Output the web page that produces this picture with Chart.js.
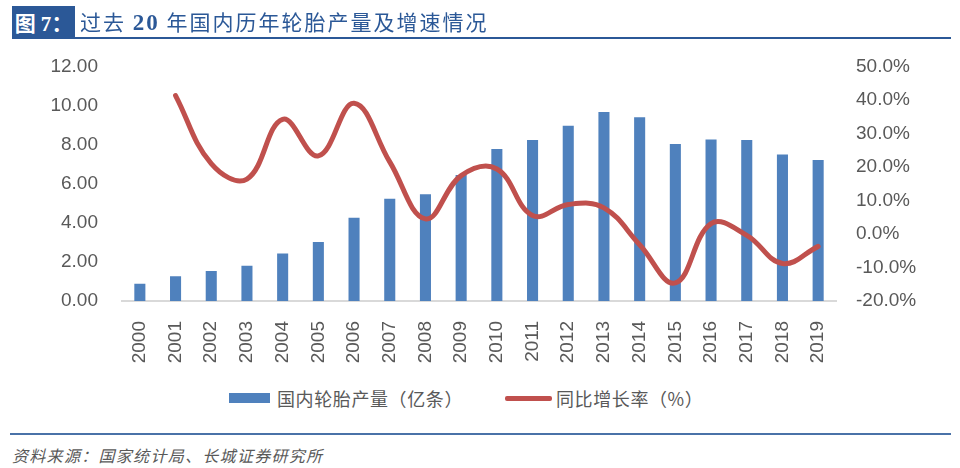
<!DOCTYPE html>
<html>
<head>
<meta charset="utf-8">
<script src="https://cdn.jsdelivr.net/npm/chart.js@4/dist/chart.umd.min.js"></script>
<style>
  html, body { margin:0; padding:0; background:#fff; }
  body { width:960px; height:468px; position:relative; overflow:hidden; font-family:"Noto Sans CJK SC", sans-serif; }
  #titlebox { position:absolute; left:12px; top:6px; width:63px; height:33px; background:#2B5897; color:#fff;
    font-family:"Liberation Serif","Noto Sans CJK SC",serif; font-weight:bold; font-size:21px; line-height:33px; text-align:center; z-index:2; }
  #titlebox span { font-family:"Noto Sans CJK SC"; font-weight:bold; }
  #titleline { position:absolute; left:75px; top:37px; width:876px; height:2px; background:#2B5897; z-index:2; }
  #title { position:absolute; left:80px; top:5px; height:33px; line-height:33px; color:#2B5897; font-size:21px; letter-spacing:2px; white-space:nowrap; z-index:2; }
  #title b { font-family:"Liberation Serif",serif; font-size:23px; }
  #wrap { position:absolute; left:0; top:31px; width:960px; height:349px; z-index:1; }
  .lg { position:absolute; z-index:2; }
  .lgt { position:absolute; top:386px; height:24px; line-height:24px; font-size:18px; color:#595959; letter-spacing:0.6px; white-space:nowrap; z-index:2; }
  #srcline { position:absolute; left:10px; top:433px; width:941px; height:2px; background:#4A72A8; }
  #src { position:absolute; left:12px; top:443px; font-size:16px; font-style:italic; color:#595959; letter-spacing:1.3px; white-space:nowrap; }
</style>
</head>
<body>
<div id="titlebox">图 7<span>：</span></div>
<div id="titleline"></div>
<div id="title">过去 <b>20</b> 年国内历年轮胎产量及增速情况</div>
<div id="wrap"><canvas id="c" width="960" height="349"></canvas></div>
<div class="lg" style="left:229px;top:393px;width:41px;height:10px;background:#4F81BD;"></div>
<div class="lgt" style="left:277px;">国内轮胎产量（亿条）</div>
<div class="lg" style="left:505px;top:396px;width:47px;height:5px;border-radius:2px;background:#C0504D;"></div>
<div class="lgt" style="left:556px;">同比增长率（%）</div>
<div id="srcline"></div>
<div id="src">资料来源：国家统计局、长城证券研究所</div>
<script>
const years = ["2000","2001","2002","2003","2004","2005","2006","2007","2008","2009",
               "2010","2011","2012","2013","2014","2015","2016","2017","2018","2019"];
const production = [0.88, 1.27, 1.53, 1.80, 2.43, 3.02, 4.26, 5.23, 5.46, 6.45,
                    7.77, 8.23, 8.97, 9.67, 9.40, 8.03, 8.26, 8.23, 7.50, 7.21];
const growth = [null, 41.3, 21.0, 16.4, 34.2, 23.3, 39.0, 21.5, 4.5, 17.4,
                19.4, 5.5, 8.8, 7.8, -3.2, -14.6, 3.1, -0.4, -8.8, -3.7];
const leftTicks = [0, 2, 4, 6, 8, 10, 12];
const rightTicks = [-20, -10, 0, 10, 20, 30, 40, 50];

const tickFont = { family: "Liberation Sans", size: 19 };
const tickColor = "#595959";

new Chart(document.getElementById('c'), {
  data: {
    labels: years,
    datasets: [
      { type: 'line', label: '同比增长率（%）', data: growth, yAxisID: 'y1', order: 0,
        borderColor: '#C0504D', borderWidth: 5, pointRadius: 0, tension: 0.4,
        borderCapStyle: 'round', borderJoinStyle: 'round', fill: false },
      { type: 'bar', label: '国内轮胎产量（亿条）', data: production, yAxisID: 'y', order: 1,
        backgroundColor: '#4F81BD', barPercentage: 0.31, categoryPercentage: 1.0 }
    ]
  },
  options: {
    responsive: false,
    animation: false,
    layout: { padding: { top: 6, left: 0, right: 0, bottom: 0 } },
    plugins: { legend: { display: false }, tooltip: { enabled: false } },
    scales: {
      x: {
        grid: { display: false, drawTicks: false },
        border: { display: true, color: '#D9D9D9', width: 2 },
        ticks: { font: tickFont, color: tickColor, minRotation: 90, maxRotation: 90, padding: 20, autoSkip: false },
        afterFit: s => { s.height = 79; }
      },
      y: {
        position: 'left', min: 0, max: 12,
        afterBuildTicks: s => { s.ticks = leftTicks.map(v => ({ value: v })); },
        grid: { display: false, drawTicks: false },
        border: { display: false },
        ticks: { font: tickFont, color: tickColor, padding: 24, callback: v => Number(v).toFixed(2) },
        afterFit: s => { s.width = 122; }
      },
      y1: {
        position: 'right', min: -20, max: 50,
        afterBuildTicks: s => { s.ticks = rightTicks.map(v => ({ value: v })); },
        grid: { display: false, drawTicks: false },
        border: { display: false },
        ticks: { font: tickFont, color: tickColor, padding: 20, callback: v => Number(v).toFixed(1) + '%' },
        afterFit: s => { s.width = 124; }
      }
    }
  }
});
</script>
</body>
</html>
